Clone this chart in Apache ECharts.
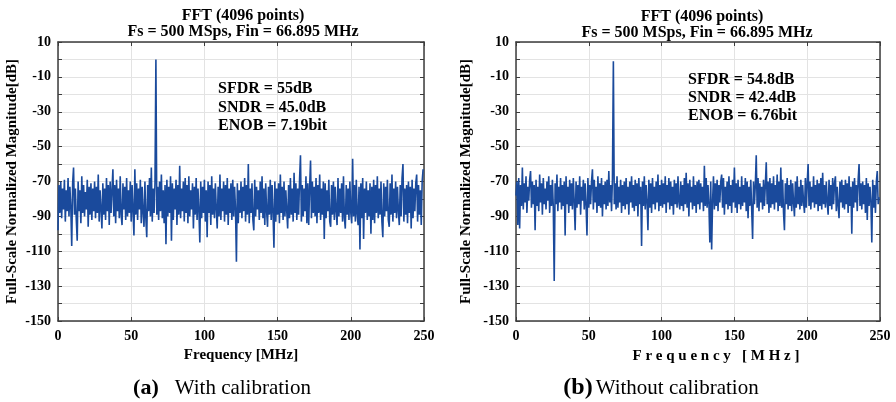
<!DOCTYPE html>
<html>
<head>
<meta charset="utf-8">
<script src="https://cdn.jsdelivr.net/npm/echarts@6/dist/echarts.min.js"></script>
<style>html,body{margin:0;padding:0;background:#fff}#c{width:896px;height:402px}</style>
</head>
<body>
<div id="c"></div>
<script>
// Frequency resolution of the plotted spectrum (MHz per bin), 0..250 MHz
const FREQ_STEP = 0.625;

// (a) With calibration — magnitude in dB per bin
const specA = [
-98,-72,-88,-70,-91,-74,-86,-69,-93,-75,-87,-68,-90,-73,-85,-107,-71,-62,-89,-74,
-92,-104,-70,-87,-75,-94,-67,-88,-72,-90,-76,-86,-69,-96,-73,-89,-71,-92,-74,-87,
-70,-91,-73,-88,-66,-93,-75,-86,-97,-71,-89,-74,-92,-68,-87,-72,-95,-70,-88,-75,
-63,-90,-72,-94,-69,-87,-74,-91,-67,-89,-95,-71,-86,-73,-92,-68,-90,-75,-88,-70,
-93,-72,-87,-101,-63,-89,-71,-92,-74,-86,-69,-94,-73,-88,-96,-70,-91,-102,-72,-87,
-68,-90,-62,-93,-74,-88,-71,0,-89,-73,-92,-70,-87,-66,-91,-75,-94,-72,-106,-69,
-90,-73,-88,-67,-104,-71,-92,-74,-86,-69,-95,-72,-89,-61,-91,-74,-87,-70,-93,-68,
-88,-72,-94,-67,-90,-75,-86,-71,-97,-73,-89,-68,-92,-74,-87,-105,-70,-91,-73,-88,
-69,-93,-75,-102,-70,-88,-72,-95,-67,-89,-74,-91,-71,-86,-97,-73,-90,-66,-92,-74,
-87,-70,-93,-72,-89,-68,-95,-74,-88,-71,-92,-69,-90,-73,-86,-116,-71,-94,-75,-88,
-70,-91,-73,-87,-68,-93,-72,-89,-60,-94,-74,-88,-71,-92,-98,-69,-90,-73,-86,-75,
-92,-70,-88,-67,-91,-74,-95,-71,-87,-96,-73,-89,-69,-92,-72,-88,-108,-70,-93,-74,
-89,-71,-94,-66,-88,-73,-92,-70,-90,-75,-87,-97,-72,-91,-68,-89,-74,-93,-65,-88,
-71,-92,-74,-89,-69,-55,-93,-72,-90,-74,-87,-67,-94,-71,-95,-73,-58,-91,-70,-88,
-73,-90,-68,-94,-72,-88,-66,-92,-74,-89,-70,-103,-71,-91,-75,-87,-69,-93,-96,-72,
-89,-70,-92,-73,-87,-95,-68,-90,-74,-88,-71,-93,-67,-91,-97,-72,-89,-74,-92,-70,
-88,-94,-57,-90,-72,-93,-69,-89,-95,-73,-109,-71,-91,-68,-103,-74,-88,-70,-92,-75,
-90,-71,-100,-73,-92,-69,-94,-72,-88,-67,-91,-74,-89,-70,-93,-102,-71,-90,-73,-87,
-69,-92,-96,-71,-89,-66,-93,-74,-88,-70,-91,-73,-87,-95,-72,-90,-68,-60,-93,-74,
-89,-72,-94,-70,-88,-73,-97,-69,-91,-74,-87,-71,-66,-93,-72,-89,-75,-95,-70,-63
];

// (b) Without calibration — magnitude in dB per bin
const specB = [
-78,-70,-95,-68,-97,-72,-84,-62,-86,-71,-82,-67,-88,-73,-81,-69,-64,-85,-70,-83,
-72,-98,-69,-84,-73,-87,-66,-82,-71,-89,-68,-83,-74,-86,-70,-81,-67,-88,-72,-84,
-69,-85,-127,-71,-83,-66,-87,-73,-82,-68,-86,-72,-84,-70,-101,-67,-83,-73,-88,-69,
-84,-71,-86,-68,-82,-98,-70,-85,-72,-83,-67,-89,-73,-81,-69,-86,-71,-84,-101,-68,
-85,-72,-83,-70,-63,-86,-69,-82,-73,-88,-67,-84,-71,-85,-68,-90,-72,-83,-70,-86,
-69,-84,-64,-82,-72,-87,-68,-1,-83,-71,-86,-67,-85,-73,-82,-69,-88,-72,-84,-70,
-86,-68,-83,-73,-89,-70,-82,-67,-85,-72,-87,-69,-84,-71,-90,-68,-83,-73,-107,-70,
-84,-67,-86,-72,-82,-98,-69,-85,-71,-88,-68,-83,-73,-86,-70,-82,-66,-87,-72,-84,
-69,-85,-71,-83,-67,-88,-72,-82,-68,-86,-70,-84,-73,-89,-69,-83,-71,-85,-67,-82,
-86,-70,-84,-72,-87,-68,-83,-65,-85,-71,-90,-69,-82,-73,-86,-67,-84,-72,-88,-70,
-83,-69,-86,-71,-82,-73,-87,-61,-84,-68,-85,-72,-83,-105,-70,-109,-82,-67,-86,-71,
-84,-69,-87,-72,-82,-70,-66,-85,-68,-89,-73,-83,-70,-86,-67,-84,-72,-88,-69,-82,
-62,-85,-71,-88,-69,-83,-73,-86,-67,-84,-72,-82,-68,-87,-70,-91,-73,-84,-69,-86,
-103,-70,-83,-72,-55,-85,-68,-87,-71,-82,-73,-86,-69,-84,-72,-59,-83,-70,-88,-68,
-85,-71,-83,-67,-86,-72,-82,-66,-87,-70,-84,-62,-85,-69,-88,-98,-71,-83,-68,-86,
-72,-84,-69,-87,-71,-82,-90,-70,-85,-67,-83,-73,-86,-69,-84,-72,-82,-88,-68,-85,
-71,-60,-84,-70,-86,-73,-82,-67,-85,-72,-83,-69,-87,-71,-84,-68,-86,-65,-83,-72,
-85,-70,-82,-89,-69,-84,-72,-86,-68,-83,-71,-67,-87,-73,-84,-91,-70,-82,-69,-85,
-72,-86,-69,-83,-71,-88,-67,-84,-73,-100,-70,-85,-68,-82,-72,-87,-69,-60,-84,-71,
-86,-70,-83,-72,-88,-68,-92,-71,-84,-73,-82,-105,-69,-85,-72,-88,-70,-64,-83,-79
];

const titleLines = ['FFT (4096 points)', 'Fs = 500 MSps, Fin = 66.895 MHz'];
const statsA = ['SFDR = 55dB', 'SNDR = 45.0dB', 'ENOB = 7.19bit'];
const statsB = ['SFDR = 54.8dB', 'SNDR = 42.4dB', 'ENOB = 6.76bit'];
const yName = 'Full-Scale Normalized Magnitude[dB]';
const xNameA = 'Frequency [MHz]';
const xNameB = 'F r e q u e n c y   [ M H z ]';

const FONT = '"Liberation Serif", "Times New Roman", serif';
const LINE_COLOR = '#1a4a9c';
const AXIS_COLOR = '#3c3c3c';

function pairs(arr) { return arr.map((v, i) => [i * FREQ_STEP, v]); }

const chart = echarts.init(document.getElementById('c'), null, {renderer: 'canvas'});

function xAx(gi, main, name) {
  return {
    type: 'value', gridIndex: gi, min: 0, max: 250, interval: 50,
    position: main ? 'bottom' : 'top',
    axisLine: {show: true, onZero: false, lineStyle: {color: AXIS_COLOR, width: 1.5}},
    axisTick: {show: true, inside: true, length: 4, lineStyle: {color: AXIS_COLOR}},
    axisLabel: {show: main, color: '#000', fontFamily: FONT, fontWeight: 'bold', fontSize: 14, margin: 8},
    splitLine: {show: main, lineStyle: {color: '#e3e3e3', width: 1}},
    name: main ? name : '', nameLocation: 'middle', nameGap: 27,
    nameTextStyle: {color: '#000', fontFamily: FONT, fontWeight: 'bold', fontSize: 15}
  };
}
function yAx(gi, main, gap) {
  return {
    type: 'value', gridIndex: gi, min: -150, max: 10, interval: 10,
    position: main ? 'left' : 'right',
    axisLine: {show: true, onZero: false, lineStyle: {color: AXIS_COLOR, width: 1.5}},
    axisTick: {show: true, inside: true, length: 4, lineStyle: {color: AXIS_COLOR}},
    axisLabel: {show: main, color: '#000', fontFamily: FONT, fontWeight: 'bold', fontSize: 14, margin: 7,
      formatter: v => ((v + 150) % 20 === 0 ? String(v) : '')},
    splitLine: {show: main, lineStyle: {color: '#e3e3e3', width: 1}},
    name: main ? yName : '', nameLocation: 'middle', nameGap: gap, nameRotate: 90,
    nameTextStyle: {color: '#000', fontFamily: FONT, fontWeight: 'bold', fontSize: 15}
  };
}

function txt(x, y, text, opts) {
  return {
    type: 'text', x: x, y: y, z: 100, zlevel: 0,
    style: Object.assign({text: text, fill: '#000', font: 'bold 16px ' + FONT, textAlign: 'center', textVerticalAlign: 'middle'}, opts || {})
  };
}

const graphics = [
  txt(243, 16, titleLines[0]), txt(243, 32, titleLines[1]),
  txt(702, 17, titleLines[0]), txt(697, 33, titleLines[1]),
  txt(218, 89, statsA[0], {textAlign: 'left'}),
  txt(218, 107.5, statsA[1], {textAlign: 'left'}),
  txt(218, 126, statsA[2], {textAlign: 'left'}),
  txt(688, 80, statsB[0], {textAlign: 'left'}),
  txt(688, 98, statsB[1], {textAlign: 'left'}),
  txt(688, 116, statsB[2], {textAlign: 'left'}),
  txt(716, 356, xNameB, {font: 'bold 15px ' + FONT}),
  {type: 'text', x: 222, y: 388, z: 100, style: {
    text: '{b|(a)}{r|With calibration}', textAlign: 'center', textVerticalAlign: 'middle',
    rich: {b: {font: 'bold 22px ' + FONT, fill: '#000', padding: [0, 16, 0, 0]}, r: {font: '21px ' + FONT, fill: '#000'}}}},
  {type: 'text', x: 661, y: 388, z: 100, style: {
    text: '{b|(b)}{r|Without calibration}', textAlign: 'center', textVerticalAlign: 'middle',
    rich: {b: {font: 'bold 24px ' + FONT, fill: '#000', padding: [0, 3, 0, 0]}, r: {font: '21px ' + FONT, fill: '#000'}}}}
];

chart.setOption({
  animation: false,
  backgroundColor: '#fff',
  grid: [
    {left: 58, right: 472, top: 42, bottom: 81, containLabel: false},
    {left: 516, right: 16, top: 42, bottom: 81, containLabel: false}
  ],
  xAxis: [xAx(0, true, xNameA), xAx(0, false), xAx(1, true, ''), xAx(1, false)],
  yAxis: [yAx(0, true, 38), yAx(0, false), yAx(1, true, 42), yAx(1, false)],
  series: [
    {type: 'line', xAxisIndex: 0, yAxisIndex: 0, data: pairs(specA), showSymbol: false, symbol: 'none',
     lineStyle: {color: LINE_COLOR, width: 1.6}, itemStyle: {color: LINE_COLOR}},
    {type: 'line', xAxisIndex: 2, yAxisIndex: 2, data: pairs(specB), showSymbol: false, symbol: 'none',
     lineStyle: {color: LINE_COLOR, width: 1.6}, itemStyle: {color: LINE_COLOR}}
  ],
  graphic: graphics
});
</script>
</body>
</html>
